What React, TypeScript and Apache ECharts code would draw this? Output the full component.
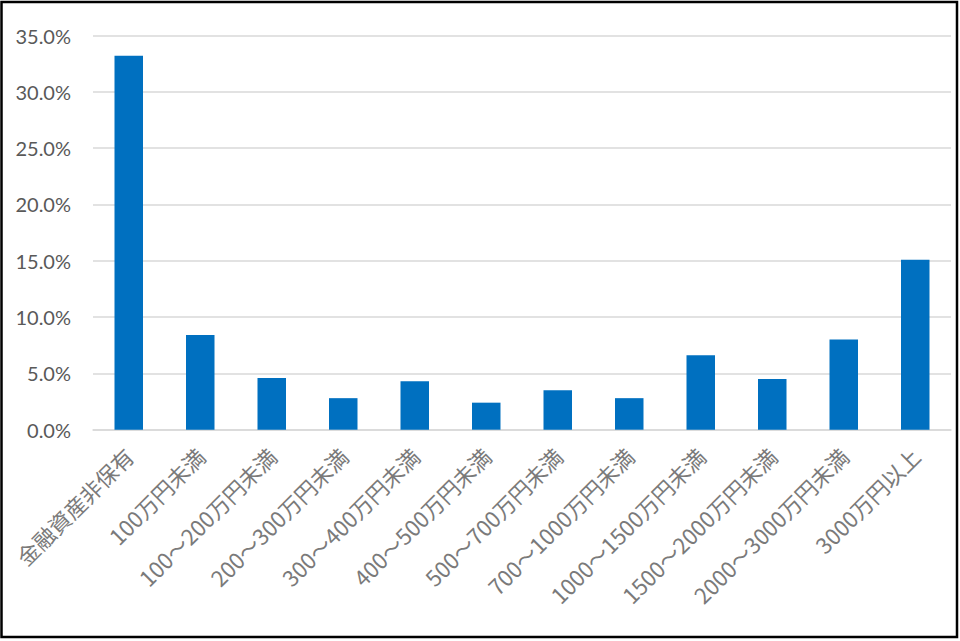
import React, { useEffect, useRef } from "react";
import * as echarts from "echarts";

const categories = [
  "金融資産非保有",
  "100万円未満",
  "100～200万円未満",
  "200～300万円未満",
  "300～400万円未満",
  "400～500万円未満",
  "500～700万円未満",
  "700～1000万円未満",
  "1000～1500万円未満",
  "1500～2000万円未満",
  "2000～3000万円未満",
  "3000万円以上",
];
const shares = [33.2, 8.4, 4.6, 2.8, 4.3, 2.4, 3.5, 2.8, 6.6, 4.5, 8.0, 15.1];
const yMin = 0;
const yMax = 35;
const yStep = 5;

export default function App() {
  const ref = useRef<HTMLDivElement>(null);
  useEffect(() => {
    document.body.style.margin = "0";
    const chart = echarts.init(ref.current!, null, { renderer: "svg" });
    chart.setOption({
      animation: false,
      backgroundColor: "#ffffff",
      grid: { left: 93, right: 9, top: 35.5, bottom: 211.3, containLabel: false },
      xAxis: {
        type: "category",
        data: categories,
        axisLine: { show: true, lineStyle: { color: "#d9d9d9", width: 1.5 } },
        axisTick: { show: false },
        axisLabel: {
          rotate: 45,
          interval: 0,
          margin: 22,
          color: "#7a7a7a",
          fontSize: 22,
          fontFamily: "'Noto Sans CJK JP', sans-serif",
        },
      },
      yAxis: {
        type: "value",
        min: yMin,
        max: yMax,
        interval: yStep,
        axisLine: { show: false },
        axisTick: { show: false },
        splitLine: { lineStyle: { color: "#d9d9d9", width: 1.5 } },
        axisLabel: {
          margin: 22,
          color: "#595959",
          fontSize: 20,
          fontFamily: "Lato, 'Noto Sans', sans-serif",
          formatter: (v: number) => v.toFixed(1) + "%",
        },
      },
      series: [
        {
          type: "bar",
          data: shares,
          barWidth: 28.5,
          itemStyle: { color: "#0070c0" },
        },
      ],
      graphic: [
        {
          type: "rect",
          shape: { x: 1.5, y: 2, width: 955.5, height: 635 },
          style: { fill: "none", stroke: "#000000", lineWidth: 2.5 },
          silent: true,
        },
      ],
    });
    return () => chart.dispose();
  }, []);
  return (
    <div
      ref={ref}
      style={{ position: "absolute", left: 0, top: 0, width: 960, height: 641 }}
    />
  );
}
